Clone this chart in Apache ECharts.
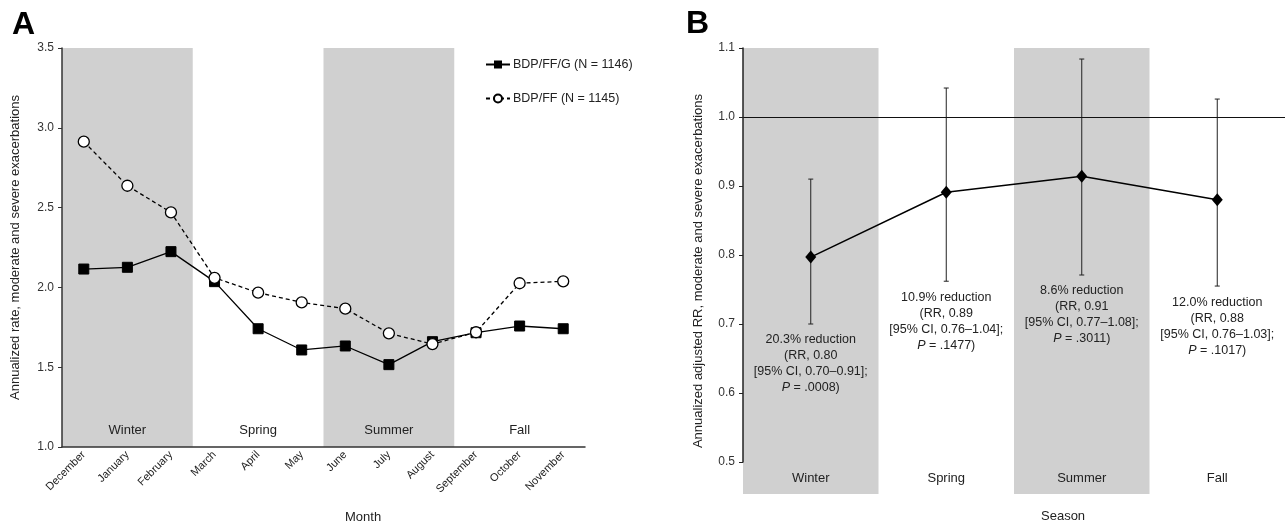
<!DOCTYPE html>
<html>
<head>
<meta charset="utf-8">
<script src="https://cdn.jsdelivr.net/npm/echarts@6/dist/echarts.min.js"></script>
<style>
html,body{margin:0;padding:0;background:#fff;}
#chart{width:1286px;height:525px;}
</style>
</head>
<body>
<div id="chart"></div>
<script>
// ---------- data ----------
const months = ['December','January','February','March','April','May','June','July','August','September','October','November'];
const seasons = ['Winter','Spring','Summer','Fall'];
const seasonShaded = [1, 0, 1, 0];
const bdpFfG = [2.115, 2.126, 2.224, 2.036, 1.741, 1.608, 1.633, 1.516, 1.660, 1.716, 1.758, 1.741];
const bdpFf  = [2.913, 2.637, 2.470, 2.060, 1.967, 1.906, 1.867, 1.712, 1.645, 1.719, 2.026, 2.038];
const seriesNames = ['BDP/FF/G (N = 1146)', 'BDP/FF (N = 1145)'];
const rrPoint = [0.797, 0.891, 0.914, 0.880];
const ciLower = [0.700, 0.762, 0.771, 0.755];
const ciUpper = [0.910, 1.042, 1.084, 1.026];
const reductionLabels = ['20.3%', '10.9%', '8.6%', '12.0%'];
const rrLabels = ['0.80', '0.89', '0.91', '0.88'];
const ciLabels = ['0.70\u20130.91', '0.76\u20131.04', '0.77\u20131.08', '0.76\u20131.03'];
const pLabels = ['.0008', '.1477', '.3011', '.1017'];
const yAxisA = {min: 1.0, max: 3.5, interval: 0.5};
const yAxisB = {min: 0.5, max: 1.1, interval: 0.1};
const refLine = 1.0;

// ---------- derived ----------
const monthsPerSeason = 3;
const monthSeasonLabel = months.map((m, i) => (i % monthsPerSeason === 1 ? seasons[Math.floor(i / monthsPerSeason)] : ''));

const FONT = '"Liberation Sans", Arial, Helvetica, sans-serif';
const TXT = '#222';
const BAND = '#d0d0d0';

// band renderer: one rect per shaded season, spanning `span` categories, full height of its value axis [0,1]
function bandRenderer(span) {
  return function (params, api) {
    if (!api.value(1)) return null;
    const c = api.coord([api.value(0), 1]);
    const b = api.coord([api.value(0), 0]);
    const w = api.size([1, 0])[0] * span;
    return {
      type: 'rect',
      shape: {x: c[0] - w / 2, y: c[1], width: w, height: b[1] - c[1]},
      style: {fill: BAND}
    };
  };
}

const chart = echarts.init(document.getElementById('chart'), null, {renderer: 'canvas'});

const option = {
  animation: false,
  backgroundColor: '#fff',
  textStyle: {fontFamily: FONT, color: TXT},
  graphic: [
    {type: 'text', left: 12, top: 9, style: {text: 'A', font: 'bold 32px ' + FONT, fill: '#000'}},
    {type: 'text', left: 686, top: 8, style: {text: 'B', font: 'bold 32px ' + FONT, fill: '#000'}},
    {type: 'text', left: 345, top: 511, style: {text: 'Month', font: '13px ' + FONT, fill: TXT, textAlign: 'center'}},
    {type: 'text', left: 1041, top: 510, style: {text: 'Season', font: '13px ' + FONT, fill: TXT, textAlign: 'center'}}
  ],
  legend: {
    left: 480, top: 53, orient: 'vertical', itemGap: 21, itemWidth: 24, itemHeight: 10,
    data: seriesNames,
    textStyle: {fontFamily: FONT, fontSize: 12.5, color: TXT, padding: [0, 0, 0, -2]},
    selectedMode: false
  },
  grid: [
    {left: 62, top: 48, width: 523, height: 399, outerBoundsMode: 'none', containLabel: false},
    {left: 743, top: 48, width: 542, height: 414, outerBoundsMode: 'none', containLabel: false},
    {left: 743, top: 48, width: 542, height: 446, outerBoundsMode: 'none', containLabel: false}
  ],
  xAxis: [
    { // 0: months (A)
      gridIndex: 0, type: 'category', data: months, boundaryGap: true, z: 10,
      axisLine: {lineStyle: {color: '#333', width: 1.5}},
      axisTick: {alignWithLabel: true, length: 4, lineStyle: {color: '#333'}},
      axisLabel: {rotate: 45, fontSize: 11, color: TXT, fontFamily: FONT, margin: 6, interval: 0},
      splitLine: {show: false}
    },
    { // 1: season labels inside A
      gridIndex: 0, type: 'category', data: monthSeasonLabel, position: 'bottom', boundaryGap: true,
      axisLine: {show: false}, axisTick: {show: false}, splitLine: {show: false},
      axisLabel: {inside: true, interval: 0, fontSize: 13, color: TXT, fontFamily: FONT, margin: 10}
    },
    { // 2: seasons B data
      gridIndex: 1, type: 'category', data: seasons, boundaryGap: true,
      axisLine: {show: false}, axisTick: {show: false}, splitLine: {show: false},
      axisLabel: {fontSize: 13, color: TXT, fontFamily: FONT, margin: 10, interval: 0}
    },
    { // 3: seasons B bands
      gridIndex: 2, type: 'category', data: seasons, boundaryGap: true, show: false
    }
  ],
  yAxis: [
    { // 0: A values
      gridIndex: 0, type: 'value', min: yAxisA.min, max: yAxisA.max, interval: yAxisA.interval, z: 10,
      name: 'Annualized rate, moderate and severe exacerbations', nameLocation: 'middle', nameGap: 40,
      nameTextStyle: {fontSize: 13, color: TXT, fontFamily: FONT},
      axisLine: {show: true, lineStyle: {color: '#333', width: 1.5}},
      axisTick: {show: true, length: 4, lineStyle: {color: '#333'}},
      axisLabel: {fontSize: 12, color: '#333', fontFamily: FONT, margin: 8, formatter: v => v.toFixed(1)},
      splitLine: {show: false}
    },
    { // 1: A bands
      gridIndex: 0, type: 'value', min: 0, max: 1, show: false
    },
    { // 2: B values
      gridIndex: 1, type: 'value', min: yAxisB.min, max: yAxisB.max, interval: yAxisB.interval, z: 10,
      axisLine: {show: true, lineStyle: {color: '#222', width: 1.5}},
      axisTick: {show: true, length: 4, lineStyle: {color: '#222'}},
      axisLabel: {fontSize: 12, color: '#333', fontFamily: FONT, margin: 8, formatter: v => v.toFixed(1)},
      splitLine: {show: false}
    },
    { // 3: B bands (carries axis name)
      gridIndex: 2, type: 'value', min: 0, max: 1,
      name: 'Annualized adjusted RR, moderate and severe exacerbations', nameLocation: 'middle', nameGap: 38,
      nameTextStyle: {fontSize: 13, color: TXT, fontFamily: FONT},
      axisLine: {show: false}, axisTick: {show: false}, axisLabel: {show: false}, splitLine: {show: false}
    }
  ],
  series: [
    { // A bands: one rect per season centred on its middle month
      type: 'custom', xAxisIndex: 0, yAxisIndex: 1, z: 0, silent: true,
      data: seasons.map((s, i) => [i * monthsPerSeason + 1, seasonShaded[i]]),
      renderItem: bandRenderer(monthsPerSeason)
    },
    {
      name: seriesNames[0], type: 'line', xAxisIndex: 0, yAxisIndex: 0, data: bdpFfG, z: 5,
      symbol: 'rect', symbolSize: 10, itemStyle: {color: '#000', borderColor: '#000'},
      lineStyle: {color: '#000', width: 1.3, type: 'solid'}
    },
    {
      name: seriesNames[1], type: 'line', xAxisIndex: 0, yAxisIndex: 0, data: bdpFf, z: 6,
      symbol: 'circle', symbolSize: 11, itemStyle: {color: '#fff', borderColor: '#000', borderWidth: 1.3},
      lineStyle: {color: '#000', width: 1.3, type: [4, 3]}
    },
    { // B bands
      type: 'custom', xAxisIndex: 3, yAxisIndex: 3, z: 0, silent: true,
      data: seasons.map((s, i) => [i, seasonShaded[i]]),
      renderItem: bandRenderer(1)
    },
    { // B error bars + annotations
      type: 'custom', xAxisIndex: 2, yAxisIndex: 2, z: 4, clip: false,
      data: seasons.map((s, i) => [i, ciLower[i], ciUpper[i]]),
      encode: {x: 0, y: [1, 2]},
      renderItem: function (params, api) {
        const i = api.value(0);
        const lo = api.coord([i, api.value(1)]);
        const hi = api.coord([i, api.value(2)]);
        const cap = 2.5;
        const ls = {stroke: '#222', lineWidth: 1};
        const rich = {
          n: {fontSize: 12.5, lineHeight: 16, fontFamily: FONT, fill: TXT},
          i: {fontSize: 12.5, lineHeight: 16, fontFamily: FONT, fill: TXT, fontStyle: 'italic'}
        };
        const txt = '{n|' + reductionLabels[i] + ' reduction}\n' +
                    '{n|(RR, ' + rrLabels[i] + '}\n' +
                    '{n|[95% CI, ' + ciLabels[i] + '];}\n' +
                    '{i|P}{n| = ' + pLabels[i] + ')}';
        return {
          type: 'group',
          children: [
            {type: 'line', shape: {x1: lo[0], y1: lo[1], x2: hi[0], y2: hi[1]}, style: ls},
            {type: 'line', shape: {x1: lo[0] - cap, y1: lo[1], x2: lo[0] + cap, y2: lo[1]}, style: ls},
            {type: 'line', shape: {x1: hi[0] - cap, y1: hi[1], x2: hi[0] + cap, y2: hi[1]}, style: ls},
            {type: 'text', x: lo[0], y: lo[1] + 8,
             style: {text: txt, rich: rich, align: 'center', verticalAlign: 'top', fill: TXT, fontSize: 12.5, fontFamily: FONT}}
          ]
        };
      }
    },
    { // B RR line
      type: 'line', xAxisIndex: 2, yAxisIndex: 2, data: rrPoint, z: 6,
      symbol: 'diamond', symbolSize: [11, 13],
      itemStyle: {color: '#000'}, lineStyle: {color: '#000', width: 1.5},
      markLine: {
        silent: true, symbol: 'none', label: {show: false},
        lineStyle: {color: '#111', width: 1.2, type: 'solid'},
        data: [{yAxis: refLine}]
      }
    }
  ]
};

chart.setOption(option);
</script>
</body>
</html>
